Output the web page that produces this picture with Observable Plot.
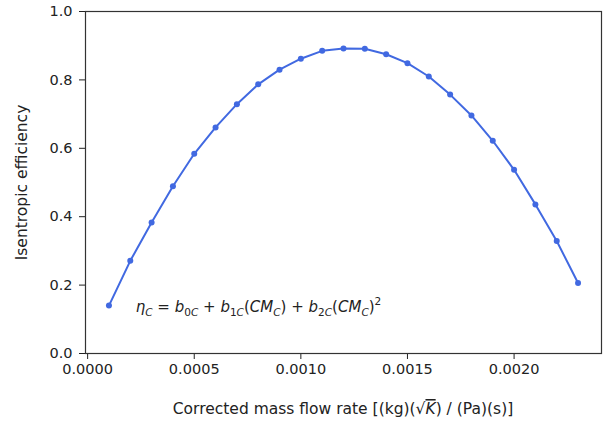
<!DOCTYPE html>
<html><head><meta charset="utf-8">
<script src="https://cdn.jsdelivr.net/npm/d3@7"></script>
<script src="https://cdn.jsdelivr.net/npm/@observablehq/plot@0.6"></script>
<style>body{margin:0;background:#fff;}</style>
</head><body><div id="chart"></div>
<script>
const massFlow = [0.0001,0.0002,0.0003,0.0004,0.0005,0.0006,0.0007,0.0008,0.0009,0.0010,0.0011,0.0012,0.0013,0.0014,0.0015,0.0016,0.0017,0.0018,0.0019,0.0020,0.0021,0.0022,0.0023];
const efficiency = [0.140,0.271,0.383,0.489,0.584,0.661,0.729,0.787,0.830,0.862,0.885,0.892,0.891,0.875,0.849,0.810,0.757,0.696,0.622,0.537,0.436,0.329,0.206];
const xTicks = [0,0.0005,0.0010,0.0015,0.0020];
const yTicks = [0,0.2,0.4,0.6,0.8,1.0];
const yLabel = "Isentropic efficiency";
const annotationPos = {x: 0.000228, y: 0.12};

const data = massFlow.map((x, i) => ({x, y: efficiency[i]}));
const blue = "#4169e1";

const plot = Plot.plot({
  width: 608, height: 425,
  marginLeft: 85, marginRight: 7, marginTop: 11, marginBottom: 72,
  style: {fontFamily: "DejaVu Sans", fontSize: "14.5px", color: "#222", background: "#fff", overflow: "visible"},
  x: {domain: [-0.00001, 0.00241], ticks: xTicks, tickFormat: d3.format(".4f"), tickSize: 6, tickPadding: 4, label: null},
  y: {domain: [0, 1], ticks: yTicks, tickFormat: d3.format(".1f"), tickSize: 6, tickPadding: 7,
      label: yLabel, labelAnchor: "center", labelOffset: 70, labelArrow: "none"},
  marks: [
    Plot.line(data, {x: "x", y: "y", stroke: blue, strokeWidth: 2}),
    Plot.dot(data, {x: "x", y: "y", fill: blue, r: 3}),
    Plot.frame({stroke: "#333", strokeWidth: 1.2})
  ]
});
document.getElementById("chart").appendChild(plot);

const svg = d3.select(plot);
svg.selectAll("[aria-label='y-axis label'] text, [aria-label='y-axis label']").style("font-size", "15.5px");

// annotation with math formatting, positioned through the plot's scales
const ax = plot.scale("x").apply(annotationPos.x);
const ay = plot.scale("y").apply(annotationPos.y);
const t = svg.append("text").attr("x", ax).attr("y", ay).attr("text-anchor", "start")
  .attr("fill", "#222").style("font-family", "DejaVu Sans").style("font-size", "15px");
const parts = [
  ["η", "i", 0], ["C", "i", 1],
  [" = ", "n", 0],
  ["b", "i", 0], ["0", "n", 1], ["C", "i", 1],
  [" + ", "n", 0],
  ["b", "i", 0], ["1", "n", 1], ["C", "i", 1],
  ["(", "n", 0], ["CM", "i", 0], ["C", "i", 1], [")", "n", 0],
  [" + ", "n", 0],
  ["b", "i", 0], ["2", "n", 1], ["C", "i", 1],
  ["(", "n", 0], ["CM", "i", 0], ["C", "i", 1], [")", "n", 0], ["2", "n", 2]
];
let shift = 0;
for (const [s, style, level] of parts) {
  const target = level === 1 ? 4 : level === 2 ? -7 : 0;
  t.append("tspan").text(s)
    .attr("dy", target - shift)
    .style("font-style", style === "i" ? "italic" : "normal")
    .style("font-size", level ? "10.5px" : "15px")
    .attr("xml:space", "preserve");
  shift = target;
}

// x-axis label with radical
const xl = svg.append("text").attr("x", (85 + 601) / 2).attr("y", 414)
  .attr("text-anchor", "middle").attr("fill", "#222")
  .style("font-family", "DejaVu Sans").style("font-size", "15.5px");
xl.append("tspan").text("Corrected mass flow rate [(kg)(√");
xl.append("tspan").text("K").style("font-style", "italic").style("text-decoration", "overline");
xl.append("tspan").text(") / (Pa)(s)]");
</script>
</body></html>
